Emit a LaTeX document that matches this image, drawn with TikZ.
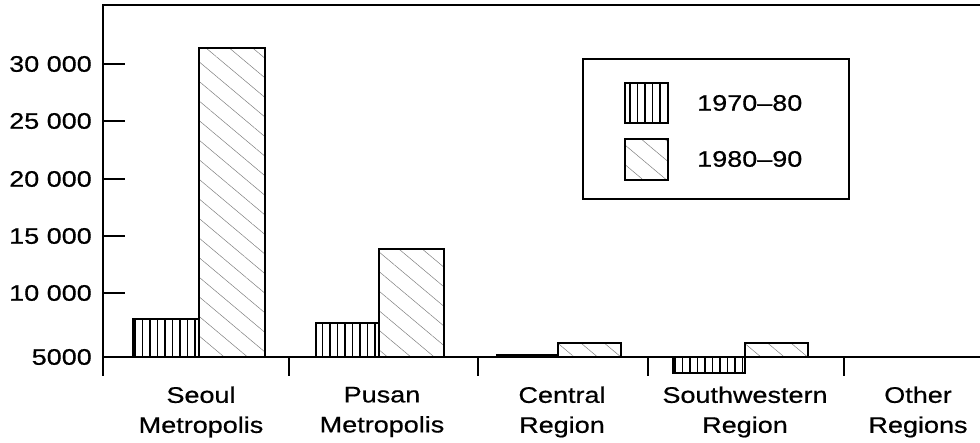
\documentclass[tikz,border=0pt]{standalone}
\usepackage{fontspec}
\setmainfont{Liberation Sans}[FakeStretch=1.2,FakeBold=0.6]
\usetikzlibrary{patterns.meta}
\begin{document}
\begin{tikzpicture}[x=1pt,y=-1pt,
  axisline/.style={line width=1.7pt},
  barbox/.style={draw,line width=1.7pt},
  stripebar/.style={barbox,pattern={Lines[angle=90,distance=7.5pt,line width=1.2pt]}},
  hatchbar/.style={barbox,pattern={Lines[angle=-40,distance=15pt,line width=0.5pt]},pattern color=black!50},
  ylab/.style={anchor=east,inner sep=0pt,font=\fontsize{22.5}{24}\selectfont},
  catlab/.style={align=center,inner sep=0pt,font=\fontsize{22.5}{30}\selectfont},
  leglab/.style={anchor=west,inner sep=0pt,font=\fontsize{22.5}{24}\selectfont}]
\useasboundingbox (0,0) rectangle (980,443);
\fill[white] (0,0) rectangle (980,443);
% bars
\draw[stripebar] (133,357) rectangle (199,319);
\draw[hatchbar] (199,357) rectangle (265,48);
\draw[stripebar] (316,357) rectangle (379,323);
\draw[hatchbar] (379,357) rectangle (444,249);
\draw[barbox,fill=black] (497,357) rectangle (558,354.5);
\draw[hatchbar] (558,357) rectangle (621,343);
\draw[stripebar] (673,357) rectangle (745,373);
\draw[hatchbar] (745,357) rectangle (808,343);
% frame and axes
\draw[axisline] (980,5) -- (103,5) -- (103,376);
\draw[axisline] (103,357) -- (980,357);
\foreach \yy in {64,121,179,236,293} \draw[axisline] (103,\yy) -- (125,\yy);
\foreach \xx in {289,478,648,844} \draw[axisline] (\xx,357) -- (\xx,376);
% y labels
\node[ylab] (y30) at (92,64) {30 000};
\node[ylab] (y25) at (92,121) {25 000};
\node[ylab] (y20) at (92,179) {20 000};
\node[ylab] (y15) at (92,236) {15 000};
\node[ylab] (y10) at (92,293) {10 000};
\node[ylab] (y5) at (92,357) {5000};
% category labels
\node[catlab] (seoul) at (201,412) {Seoul\\Metropolis};
\node[catlab] (pusan) at (382,412) {Pusan\\Metropolis};
\node[catlab] (central) at (562,412) {Central\\Region};
\node[catlab] (sw) at (745,412) {Southwestern\\Region};
\node[catlab] (other) at (918,412) {Other\\Regions};
% legend
\draw[line width=1.5pt] (583,59) rectangle (849,199);
\draw[stripebar,line width=1.5pt] (625,83) rectangle (668,123);
\draw[hatchbar,line width=1.5pt] (625,139) rectangle (668,180);
\node[leglab] (l1) at (697,103) {1970--80};
\node[leglab] (l2) at (697,159) {1980--90};
\end{tikzpicture}
\end{document}
